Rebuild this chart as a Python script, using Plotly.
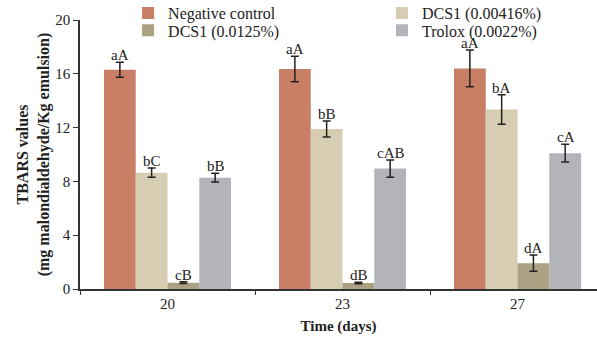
import plotly.graph_objects as go

days = ["20", "23", "27"]
series_names = ["Negative control", "DCS1 (0.00416%)", "DCS1 (0.0125%)", "Trolox (0.0022%)"]
neg_control = [16.3, 16.35, 16.4]
neg_control_err = [0.55, 0.95, 1.37]
dcs1_low = [8.65, 11.9, 13.35]
dcs1_low_err = [0.35, 0.6, 1.1]
dcs1_high = [0.47, 0.45, 1.92]
dcs1_high_err = [0.06, 0.06, 0.6]
trolox = [8.28, 8.95, 10.1]
trolox_err = [0.33, 0.65, 0.66]

labels_neg = ["aA", "aA", "aA"]
labels_low = ["bC", "bB", "bA"]
labels_high = ["cB", "dB", "dA"]
labels_trolox = ["bB", "cAB", "cA"]

colors = ["#C97E66", "#D6CDB3", "#ABA283", "#B3B4BA"]
values = [neg_control, dcs1_low, dcs1_high, trolox]
errors = [neg_control_err, dcs1_low_err, dcs1_high_err, trolox_err]
labels = [labels_neg, labels_low, labels_high, labels_trolox]
legend_ids = ["legend", "legend2", "legend3", "legend4"]
# legend anchor positions (x: paper, y: container)
legend_pos = [(0.093, 0.962), (0.584, 0.962), (0.093, 0.912), (0.584, 0.912)]

FONT = "Liberation Serif, Times New Roman, serif"

fig = go.Figure()
for name, vals, errs, col, lg in zip(series_names, values, errors, colors, legend_ids):
    fig.add_trace(go.Bar(
        x=days, y=vals, name=name, marker=dict(color=col, line=dict(width=0)),
        error_y=dict(type="data", array=errs, visible=True, color="#222222",
                     thickness=1.5, width=4),
        legend=lg,
    ))

bar_px = 32
offsets = [-1.5 * bar_px, -0.5 * bar_px, 0.5 * bar_px, 1.5 * bar_px]
for vals, errs, labs, off in zip(values, errors, labels, offsets):
    for i, (v, e, t) in enumerate(zip(vals, errs, labs)):
        fig.add_annotation(x=i, y=v + e, xref="x", yref="y", text=t, showarrow=False,
                           xshift=off, yanchor="bottom", yshift=-3,
                           font=dict(family=FONT, size=15, color="#222222"))

legend_common = dict(xanchor="left", yanchor="middle", orientation="v",
                     yref="container",
                     bgcolor="rgba(0,0,0,0)", itemwidth=30, tracegroupgap=0,
                     font=dict(family=FONT, size=16, color="#222222"))
legends = {}
for lg, (lx, ly) in zip(legend_ids, legend_pos):
    legends[lg] = dict(x=lx, y=ly, **legend_common)

fig.update_layout(
    width=597, height=346,
    margin=dict(l=80, r=0, t=20, b=57, autoexpand=False),
    paper_bgcolor="white", plot_bgcolor="white",
    barmode="group", bargap=0.274, bargroupgap=0,
    font=dict(family=FONT, size=15, color="#222222"),
    showlegend=True,
    **legends,
    xaxis=dict(
        type="category", range=[-0.5, 2.454],
        showline=True, linecolor="#333333", linewidth=1.5,
        ticks="outside", tickson="boundaries", ticklen=4, tickcolor="#333333",
        tickfont=dict(family=FONT, size=15, color="#222222"),
        title=dict(text="<b>Time (days)</b>", font=dict(family=FONT, size=15), standoff=10),
        showgrid=False,
    ),
    yaxis=dict(
        range=[0, 20], tickvals=[0, 4, 8, 12, 16, 20],
        showline=True, linecolor="#333333", linewidth=1.5,
        ticks="outside", ticklen=5, tickcolor="#333333",
        tickfont=dict(family=FONT, size=15, color="#222222"),
        title=dict(text="<b>TBARS values<br>(mg malondialdehyde/Kg emulsion)</b>",
                   font=dict(family=FONT, size=16), standoff=2),
        showgrid=False, zeroline=False,
    ),
)

fig.write_html("out.html")
